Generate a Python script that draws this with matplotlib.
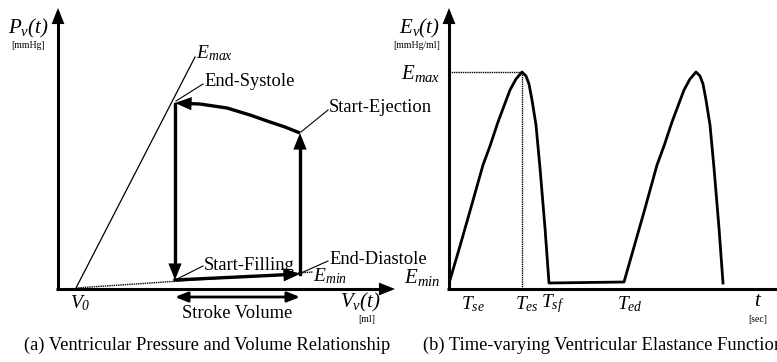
import matplotlib
matplotlib.use('Agg')
import matplotlib.pyplot as plt
from matplotlib.patches import FancyArrowPatch

plt.rcParams['font.family'] = ['Liberation Serif', 'DejaVu Serif']
plt.rcParams['mathtext.fontset'] = 'custom'
plt.rcParams['mathtext.rm'] = 'Liberation Serif:italic'
plt.rcParams['mathtext.it'] = 'Liberation Serif:italic'
plt.rcParams['mathtext.default'] = 'it'

# Everything is laid out on a canvas of 777 x 362 units (y grows downward)
# (a) pressure-volume loop corners
V0 = (76, 288)
end_systole = (175, 103)
start_ejection = (300, 133)
start_filling = (175, 280)
end_diastole = (300, 274)
emax_top = (195, 57)
emin_end = (313, 272)

# ejection curve from start-ejection back to end-systole
eject_x = [300, 285, 270, 250, 227, 200, 175]
eject_y = [133, 127, 122, 115, 108, 104, 103]

# (b) elastance curve, two beats with a flat diastole in between
elast_x = [450, 460, 470, 483, 490, 498, 504, 510, 516, 522, 526, 529, 532, 536, 540, 545, 549,
           624, 634, 644, 657, 664, 672, 678, 684, 690, 696, 700, 703, 706, 710, 714, 719, 723]
elast_y = [280, 246, 211, 165, 146, 122, 106, 90, 79, 72, 76, 84, 100, 125, 168, 228, 283,
           282, 247, 212, 165, 146, 122, 106, 90, 79, 72, 76, 84, 100, 125, 168, 228, 283]
t_es = 522
e_max_level = 72

fig = plt.figure(figsize=(7.77, 3.62), dpi=100)
ax = fig.add_axes([0, 0, 1, 1])
ax.set_xlim(0, 777)
ax.set_ylim(362, 0)
ax.axis('off')


def arrow(p0, p1, lw=2.2):
    a = FancyArrowPatch(p0, p1, arrowstyle='-|>,head_length=0.75,head_width=0.3',
                        mutation_scale=10, lw=lw, color='black',
                        shrinkA=0, shrinkB=0, joinstyle='miter', capstyle='butt')
    ax.add_patch(a)


# --- panel (a) axes ---
ax.plot([58, 58], [289, 20], color='black', lw=2.2, solid_capstyle='butt')
arrow((58, 24), (58, 8))
ax.plot([56, 385], [289, 289], color='black', lw=2.2, solid_capstyle='butt')
arrow((380, 289), (395, 289))

# Emax and Emin lines through V0
ax.plot([V0[0], emax_top[0]], [V0[1], emax_top[1]], color='black', lw=0.9)
ax.plot([V0[0], emin_end[0]], [V0[1], emin_end[1]], color='black', lw=1.0, ls=(0, (1, 0.6)))

# PV loop
ax.plot(eject_x[:-1], eject_y[:-1], color='black', lw=2.4, solid_capstyle='butt')
arrow((eject_x[-2], eject_y[-2]), end_systole, lw=2.4)
ax.plot([end_systole[0]] * 2, [end_systole[1] + 1, start_filling[1] - 8], color='black', lw=2.4)
arrow((start_filling[0], start_filling[1] - 12), start_filling, lw=2.4)
ax.plot([start_filling[0], end_diastole[0] - 8], [start_filling[1], end_diastole[1] + 0.4], color='black', lw=2.4)
arrow((end_diastole[0] - 12, end_diastole[1] + 0.6), end_diastole, lw=2.4)
ax.plot([start_ejection[0]] * 2, [end_diastole[1], start_ejection[1] + 8], color='black', lw=2.4)
arrow((start_ejection[0], start_ejection[1] + 12), start_ejection, lw=2.4)

# stroke volume double arrow
sv = FancyArrowPatch((175, 297), (300, 297), arrowstyle='<|-|>,head_length=0.75,head_width=0.3',
                     mutation_scale=10, lw=2.0, color='black', shrinkA=0, shrinkB=0)
ax.add_patch(sv)

# leader lines to the loop labels
leaders = [((176, 101), (203, 84)), ((301, 132), (328, 110)),
           ((177, 279), (203, 266)), ((301, 273), (328, 261))]
for p0, p1 in leaders:
    ax.plot([p0[0], p1[0]], [p0[1], p1[1]], color='black', lw=0.8)

fs = 13.3
ax.text(204, 82, 'End-Systole', fontsize=fs, va='center', ha='left')
ax.text(329, 108, 'Start-Ejection', fontsize=fs, va='center', ha='left')
ax.text(204, 265, 'Start-Filling', fontsize=fs, va='center', ha='left')
ax.text(329, 259, 'End-Diastole', fontsize=fs, va='center', ha='left')
ax.text(237, 313, 'Stroke Volume', fontsize=fs, va='center', ha='center')
ax.text(196, 53, r'$E_{max}$', fontsize=14, va='center', ha='left')
ax.text(313, 276, r'$E_{min}$', fontsize=14, va='center', ha='left')
ax.text(80, 303, r'$V_{0}$', fontsize=14, va='center', ha='center')
ax.text(28, 28, r'$P_v(t)$', fontsize=15, va='center', ha='center')
ax.text(28, 45, '[mmHg]', fontsize=7, va='center', ha='center')
ax.text(360, 302, r'$V_v(t)$', fontsize=15, va='center', ha='center')
ax.text(367, 320, '[ml]', fontsize=7, va='center', ha='center')
ax.text(207, 345, '(a) Ventricular Pressure and Volume Relationship', fontsize=fs,
        va='center', ha='center')

# --- panel (b) axes ---
ax.plot([449, 449], [289, 20], color='black', lw=2.2, solid_capstyle='butt')
arrow((449, 24), (449, 8))
ax.plot([447, 777], [289, 289], color='black', lw=2.2, solid_capstyle='butt')

ax.plot([449, t_es], [e_max_level, e_max_level], color='black', lw=1.0, ls=(0, (1, 0.6)))
ax.plot([t_es, t_es], [e_max_level, 289], color='black', lw=1.0, ls=(0, (1, 0.6)))
ax.plot(elast_x, elast_y, color='black', lw=2.0, solid_joinstyle='round')

ax.text(440, 28, r'$E_v(t)$', fontsize=15, va='center', ha='right')
ax.text(440, 45, '[mmHg/ml]', fontsize=7, va='center', ha='right')
ax.text(440, 73, r'$E_{max}$', fontsize=15, va='center', ha='right')
ax.text(440, 277, r'$E_{min}$', fontsize=15, va='center', ha='right')
for lbl, xpos in [(r'$T_{se}$', 473), (r'$T_{es}$', 527), (r'$T_{sf}$', 553), (r'$T_{ed}$', 630)]:
    ax.text(xpos, 304, lbl, fontsize=14, va='center', ha='center')
ax.text(758, 302, r'$t$', fontsize=15, va='center', ha='center')
ax.text(758, 320, '[sec]', fontsize=7, va='center', ha='center')
ax.text(603, 345, '(b) Time-varying Ventricular Elastance Function', fontsize=fs,
        va='center', ha='center')

fig.savefig('out.png', dpi=100)
